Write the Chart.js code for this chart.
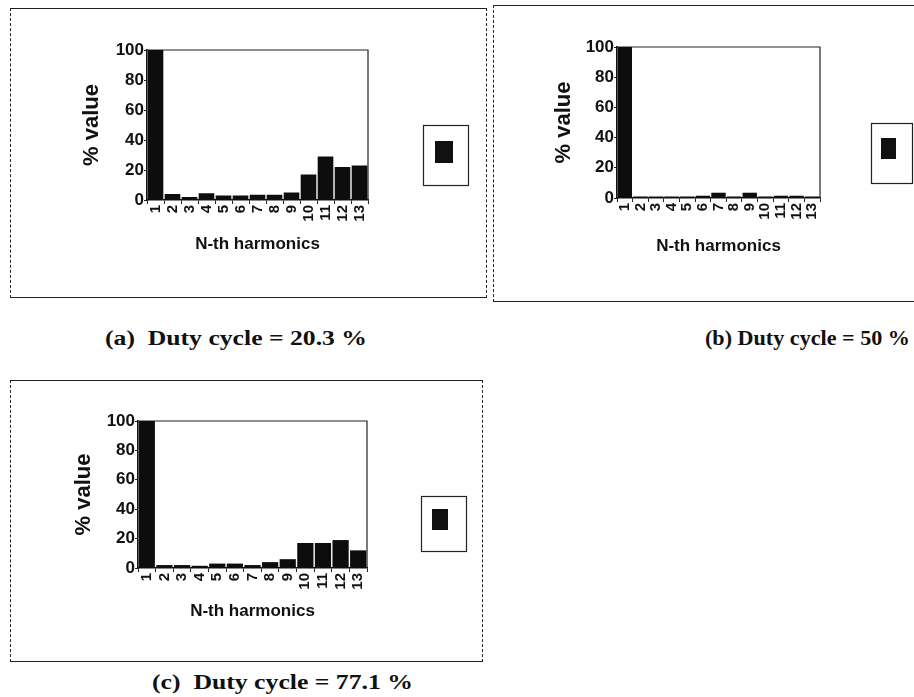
<!DOCTYPE html>
<html>
<head>
<meta charset="utf-8">
<script src="https://cdn.jsdelivr.net/npm/chart.js@4.4.1/dist/chart.umd.min.js"></script>
<style>
  body { margin: 0; width: 914px; height: 697px; background: #fff; position: relative; overflow: hidden; }
  .panel { position: absolute; box-sizing: border-box;
    border-top: 1px solid #222; border-bottom: 1px solid #222;
    border-left: 1px dashed #222; border-right: 1px dashed #222; }
  .panel canvas { position: absolute; left: -1px; top: -1px; }
  .caption { position: absolute; font: bold 20px "Liberation Serif", "Times New Roman", serif; color: #111;
    white-space: pre; transform-origin: left top; }
</style>
</head>
<body>
<div class="panel" style="left:10px; top:8px; width:477px; height:290px;"><canvas id="chartA" width="477" height="290"></canvas></div>
<div class="panel" style="left:493px; top:5px; width:430px; height:297px;"><canvas id="chartB" width="421" height="297"></canvas></div>
<div class="panel" style="left:10px; top:380px; width:473px; height:282px;"><canvas id="chartC" width="473" height="282"></canvas></div>
<div class="caption" id="capA" style="left:105px; top:327px;"></div>
<div class="caption" id="capB" style="left:705px; top:327px;"></div>
<div class="caption" id="capC" style="left:152px; top:671px;"></div>
<script>
const harmonics = ['1', '2', '3', '4', '5', '6', '7', '8', '9', '10', '11', '12', '13'];
const dutyA = [100, 4, 2, 4.5, 3, 3, 3.5, 3.5, 5, 17, 29, 22, 23];
const dutyB = [100, 1, 1, 1, 1, 1.5, 3.5, 1, 3.5, 1, 1.5, 1.5, 1];
const dutyC = [100, 2, 2, 1.5, 3, 3, 2, 4, 6, 17, 17, 19, 12];
const yTicks = [0, 20, 40, 60, 80, 100];
const captions = ['(a)  Duty cycle = 20.3 %', '(b) Duty cycle = 50 %', '(c)  Duty cycle = 77.1 %'];

// captions are set wide, stretch each one to its printed width
function setCaption(id, text, width) {
  const el = document.getElementById(id);
  el.textContent = text;
  const w = el.getBoundingClientRect().width;
  el.style.transform = 'scaleX(' + (width / w) + ')';
}
setCaption('capA', captions[0], 262);
setCaption('capB', captions[1], 205);
setCaption('capC', captions[2], 261);

// top and right edges of the plot box
const plotFrame = {
  id: 'plotFrame',
  beforeDatasetsDraw(chart) {
    const { ctx, chartArea: a } = chart;
    ctx.save();
    ctx.strokeStyle = '#222';
    ctx.lineWidth = 1.2;
    ctx.beginPath();
    ctx.moveTo(a.left, a.top);
    ctx.lineTo(a.right, a.top);
    ctx.lineTo(a.right, a.bottom);
    ctx.stroke();
    ctx.restore();
  }
};

// small framed legend key, no text
const legendKey = {
  id: 'legendKey',
  afterDraw(chart, args, opts) {
    const { ctx } = chart;
    ctx.save();
    ctx.strokeStyle = '#222';
    ctx.lineWidth = 1.2;
    ctx.strokeRect(opts.box[0] + 0.5, opts.box[1] + 0.5, opts.box[2], opts.box[3]);
    ctx.fillStyle = '#111';
    ctx.fillRect(opts.swatch[0], opts.swatch[1], opts.swatch[2], opts.swatch[3]);
    ctx.restore();
  }
};

function makeChart(id, values, g) {
  return new Chart(document.getElementById(id), {
    type: 'bar',
    data: {
      labels: harmonics,
      datasets: [{
        label: '',
        data: values,
        backgroundColor: '#0d0d0d',
        borderWidth: 0,
        barPercentage: 0.92,
        categoryPercentage: 1.0
      }]
    },
    options: {
      responsive: false,
      animation: false,
      layout: { padding: g.padding },
      plugins: {
        legend: { display: false },
        tooltip: { enabled: false },
        legendKey: { box: g.box, swatch: g.swatch }
      },
      scales: {
        x: {
          offset: true,
          grid: { display: true, drawOnChartArea: false, offset: true, tickLength: 4, color: '#222', lineWidth: 1 },
          border: { display: true, color: '#111', width: 1.5 },
          ticks: {
            autoSkip: false, minRotation: 90, maxRotation: 90, padding: 1,
            color: '#111', font: { family: 'Liberation Sans', size: 15, weight: 'bold' }
          },
          title: {
            display: true, text: 'N-th harmonics', color: '#111',
            font: { family: 'Liberation Sans', size: 17, weight: 'bold' }
          },
          afterFit(scale) { scale.height = g.xHeight; }
        },
        y: {
          min: 0, max: 100,
          afterBuildTicks(scale) { scale.ticks = yTicks.map(v => ({ value: v })); },
          grid: { display: true, drawOnChartArea: false, tickLength: 3, color: '#222' },
          border: { display: true, color: '#111', width: 1.5 },
          ticks: { padding: 0, color: '#111', font: { family: 'Liberation Sans', size: 17, weight: 'bold' } },
          title: {
            display: true, text: '% value', color: '#111',
            font: { family: 'Liberation Sans', size: 22, weight: 'bold' }
          },
          afterFit(scale) { scale.width = g.yWidth; }
        }
      }
    },
    plugins: [plotFrame, legendKey]
  });
}

makeChart('chartA', dutyA, {
  padding: { left: 65, top: 42, right: 119, bottom: 39 },
  yWidth: 72, xHeight: 59,
  box: [413, 117, 45, 60], swatch: [425, 133, 18, 22]
});
makeChart('chartB', dutyB, {
  padding: { left: 54, top: 42, right: 94, bottom: 41 },
  yWidth: 70, xHeight: 63,
  box: [378, 118, 41, 60], swatch: [388, 133, 15, 21]
});
makeChart('chartC', dutyC, {
  padding: { left: 57, top: 41, right: 116, bottom: 36 },
  yWidth: 71, xHeight: 58,
  box: [411, 116, 45, 55], swatch: [422, 129, 16, 21]
});
</script>
</body>
</html>
